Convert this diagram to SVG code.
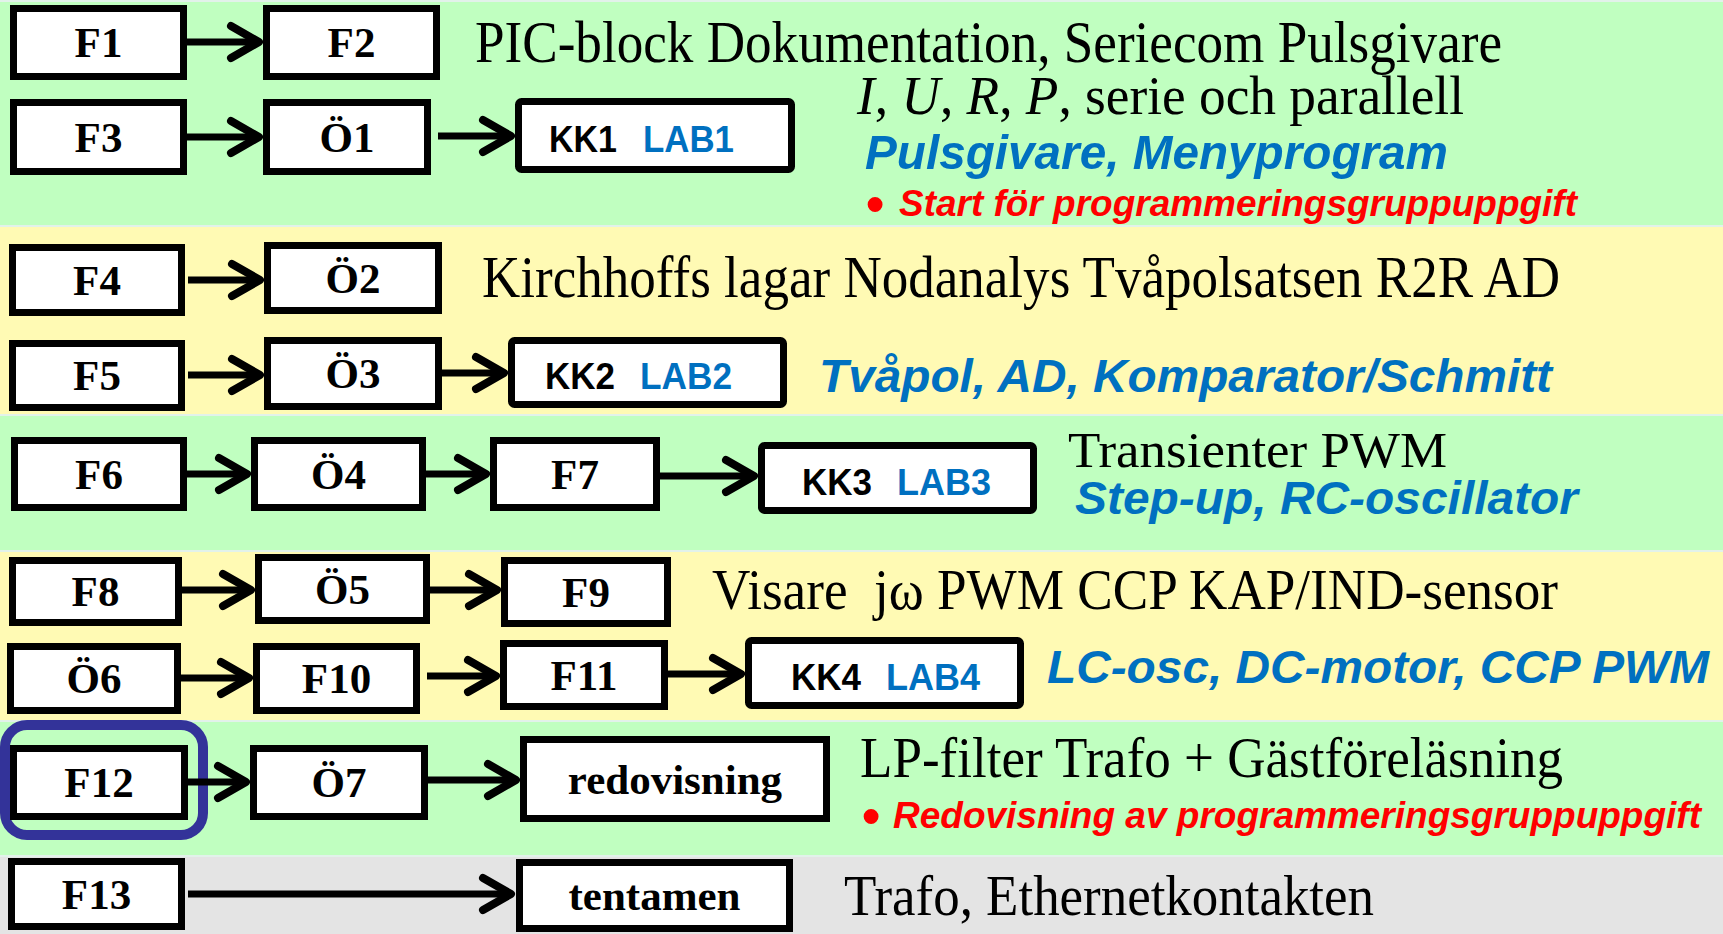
<svg xmlns="http://www.w3.org/2000/svg" width="1723" height="934" viewBox="0 0 1723 934">
<style>
.box{fill:#fff;stroke:#000;stroke-width:7}
.kk{fill:#fff;stroke:#000;stroke-width:7}
.lbl{font-family:"Liberation Serif","Times New Roman",serif;font-weight:bold;font-size:43px;fill:#000;text-anchor:middle}
.kkt{font-family:"Liberation Sans",Arial,sans-serif;font-weight:bold;font-size:36px;fill:#000}
.lab{fill:#0070C0}
.ser{font-family:"Liberation Serif","Times New Roman",serif;fill:#000}
.bi{font-family:"Liberation Sans",Arial,sans-serif;font-weight:bold;font-style:italic;fill:#0070C0}
.red{fill:#FF0000}
.bul{font-family:"Liberation Sans",Arial,sans-serif;font-weight:bold;fill:#FF0000;font-size:52px}
.con line{stroke:#000;stroke-width:7;marker-end:url(#chev)}
</style>
<defs>
<marker id="chev" markerUnits="userSpaceOnUse" markerWidth="44" markerHeight="44" viewBox="-36 -22 44 44" refX="0" refY="0" orient="auto" overflow="visible">
<path d="M-28,-16 L0,0 L-28,16" fill="none" stroke="#000" stroke-width="8" stroke-linecap="round" stroke-linejoin="round"/>
</marker>
</defs>
<g id="bands">
<rect x="0" y="0" width="1723" height="226" fill="#C0FFC0"/>
<rect x="0" y="226" width="1723" height="189" fill="#FFFAB4"/>
<rect x="0" y="415" width="1723" height="136" fill="#C0FFC0"/>
<rect x="0" y="551" width="1723" height="170" fill="#FFFAB4"/>
<rect x="0" y="721" width="1723" height="135" fill="#C0FFC0"/>
<rect x="0" y="856" width="1723" height="78" fill="#E4E4E4"/>
<g fill="#E2F2EA">
<rect x="0" y="0" width="1723" height="2"/>
<rect x="0" y="225" width="1723" height="2"/>
<rect x="0" y="414" width="1723" height="2"/>
<rect x="0" y="550" width="1723" height="2"/>
<rect x="0" y="720" width="1723" height="2"/>
<rect x="0" y="855" width="1723" height="2"/>
</g>
</g>
<rect id="highlight" x="5" y="725" width="198" height="110" rx="22" fill="none" stroke="#333399" stroke-width="10"/>
<g id="connectors" class="con">
<line x1="187" y1="42" x2="259" y2="42"/>
<line x1="187" y1="137" x2="259" y2="137"/>
<line x1="438" y1="136" x2="511" y2="136"/>
<line x1="188" y1="280" x2="260" y2="280"/>
<line x1="188" y1="375" x2="260" y2="375"/>
<line x1="442" y1="373" x2="504" y2="373"/>
<line x1="187" y1="474" x2="247" y2="474"/>
<line x1="426" y1="474" x2="486" y2="474"/>
<line x1="660" y1="476" x2="754" y2="476"/>
<line x1="182" y1="590" x2="251" y2="590"/>
<line x1="430" y1="590" x2="497" y2="590"/>
<line x1="181" y1="678" x2="249" y2="678"/>
<line x1="427" y1="676" x2="496" y2="676"/>
<line x1="668" y1="674" x2="741" y2="674"/>
<line x1="188" y1="782" x2="246" y2="782"/>
<line x1="428" y1="780" x2="516" y2="780"/>
<line x1="188" y1="894" x2="511" y2="894"/>
</g>
<g id="F1"><rect class="box" x="13.5" y="8.5" width="170" height="68"/><text class="lbl" x="98.5" y="57">F1</text></g>
<g id="F2"><rect class="box" x="266.5" y="8.5" width="170" height="68"/><text class="lbl" x="351.5" y="57">F2</text></g>
<g id="F3"><rect class="box" x="13.5" y="102.5" width="170" height="69"/><text class="lbl" x="98.5" y="151.5">F3</text></g>
<g id="O1"><rect class="box" x="266.5" y="102.5" width="161" height="69"/><text class="lbl" x="347" y="151.5">Ö1</text></g>
<g id="KK1"><rect class="kk" x="518.5" y="101.5" width="273" height="68" rx="3"/><text class="kkt" x="549" y="152" textLength="68" lengthAdjust="spacingAndGlyphs">KK1</text><text class="kkt lab" x="643" y="152" textLength="91" lengthAdjust="spacingAndGlyphs">LAB1</text></g>
<g id="F4"><rect class="box" x="12.5" y="247.5" width="169" height="65"/><text class="lbl" x="97" y="294.5">F4</text></g>
<g id="O2"><rect class="box" x="267.5" y="245.5" width="171" height="65"/><text class="lbl" x="353" y="292.5">Ö2</text></g>
<g id="F5"><rect class="box" x="12.5" y="343.5" width="169" height="64"/><text class="lbl" x="97" y="390">F5</text></g>
<g id="O3"><rect class="box" x="267.5" y="340.5" width="171" height="66"/><text class="lbl" x="353" y="388">Ö3</text></g>
<g id="KK2"><rect class="kk" x="511.5" y="340.5" width="272" height="64" rx="3"/><text class="kkt" x="545" y="389" textLength="70" lengthAdjust="spacingAndGlyphs">KK2</text><text class="kkt lab" x="640" y="389" textLength="92" lengthAdjust="spacingAndGlyphs">LAB2</text></g>
<g id="F6"><rect class="box" x="14.5" y="440.5" width="169" height="67"/><text class="lbl" x="99" y="488.5">F6</text></g>
<g id="O4"><rect class="box" x="254.5" y="440.5" width="168" height="67"/><text class="lbl" x="338.5" y="488.5">Ö4</text></g>
<g id="F7"><rect class="box" x="493.5" y="440.5" width="163" height="67"/><text class="lbl" x="575" y="488.5">F7</text></g>
<g id="KK3"><rect class="kk" x="761.5" y="445.5" width="272" height="65" rx="3"/><text class="kkt" x="802" y="494.5" textLength="70" lengthAdjust="spacingAndGlyphs">KK3</text><text class="kkt lab" x="897" y="494.5" textLength="94" lengthAdjust="spacingAndGlyphs">LAB3</text></g>
<g id="F8"><rect class="box" x="12.5" y="560.5" width="166" height="62"/><text class="lbl" x="95.5" y="606">F8</text></g>
<g id="O5"><rect class="box" x="258.5" y="557.5" width="168" height="63"/><text class="lbl" x="342.5" y="603.5">Ö5</text></g>
<g id="F9"><rect class="box" x="504.5" y="560.5" width="163" height="63"/><text class="lbl" x="586" y="606.5">F9</text></g>
<g id="O6"><rect class="box" x="10.5" y="646.5" width="167" height="64"/><text class="lbl" x="94" y="693">Ö6</text></g>
<g id="F10"><rect class="box" x="256.5" y="646.5" width="160" height="64"/><text class="lbl" x="336.5" y="693">F10</text></g>
<g id="F11"><rect class="box" x="503.5" y="643.5" width="161" height="63"/><text class="lbl" x="584" y="689.5">F11</text></g>
<g id="KK4"><rect class="kk" x="748.5" y="640.5" width="272" height="65" rx="3"/><text class="kkt" x="791" y="689.5" textLength="70" lengthAdjust="spacingAndGlyphs">KK4</text><text class="kkt lab" x="886" y="689.5" textLength="94" lengthAdjust="spacingAndGlyphs">LAB4</text></g>
<g id="F12"><rect class="box" x="13.5" y="748.5" width="171" height="68"/><text class="lbl" x="99" y="797">F12</text></g>
<g id="O7"><rect class="box" x="253.5" y="748.5" width="171" height="68"/><text class="lbl" x="339" y="797">Ö7</text></g>
<g id="redovisning"><rect class="box" x="523.5" y="739.5" width="303" height="79"/><text class="lbl" x="675" y="793.5">redovisning</text></g>
<g id="F13"><rect class="box" x="11.5" y="861.5" width="170" height="65"/><text class="lbl" x="96.5" y="908.5">F13</text></g>
<g id="tentamen"><rect class="box" x="519.5" y="862.5" width="270" height="66"/><text class="lbl" x="654.5" y="910">tentamen</text></g>
<g id="notes">
<text class="ser" x="475" y="62" font-size="59" textLength="1027" lengthAdjust="spacingAndGlyphs">PIC-block Dokumentation, Seriecom Pulsgivare</text>
<text class="ser" x="857" y="114" font-size="55" textLength="607" lengthAdjust="spacingAndGlyphs"><tspan font-style="italic">I</tspan>, <tspan font-style="italic">U</tspan>, <tspan font-style="italic">R</tspan>, <tspan font-style="italic">P</tspan>, serie och parallell</text>
<text class="bi" x="865" y="169" font-size="49" textLength="583" lengthAdjust="spacingAndGlyphs">Pulsgivare, Menyprogram</text>
<text class="bul" x="866" y="222">•</text>
<text class="bi red" x="899" y="216" font-size="36" textLength="678" lengthAdjust="spacingAndGlyphs">Start för programmeringsgruppuppgift</text>
<text class="ser" x="482" y="297" font-size="60" textLength="1078" lengthAdjust="spacingAndGlyphs">Kirchhoffs lagar Nodanalys Tvåpolsatsen R2R AD</text>
<text class="bi" x="819" y="392" font-size="47" textLength="733" lengthAdjust="spacingAndGlyphs">Tvåpol, AD, Komparator/Schmitt</text>
<text class="ser" x="1068" y="467" font-size="50" textLength="379" lengthAdjust="spacingAndGlyphs">Transienter PWM</text>
<text class="bi" x="1075" y="514" font-size="46" textLength="503" lengthAdjust="spacingAndGlyphs">Step-up, RC-oscillator</text>
<text class="ser" x="712" y="609" font-size="57" textLength="846" lengthAdjust="spacingAndGlyphs">Visare &#160;jω PWM CCP KAP/IND-sensor</text>
<text class="bi" x="1047" y="683" font-size="46" textLength="662" lengthAdjust="spacingAndGlyphs">LC-osc, DC-motor, CCP PWM</text>
<text class="ser" x="860" y="777" font-size="58" textLength="703" lengthAdjust="spacingAndGlyphs">LP-filter Trafo + Gästföreläsning</text>
<text class="bul" x="862" y="834">•</text>
<text class="bi red" x="893" y="828" font-size="36" textLength="808" lengthAdjust="spacingAndGlyphs">Redovisning av programmeringsgruppuppgift</text>
<text class="ser" x="844" y="915" font-size="57" textLength="530" lengthAdjust="spacingAndGlyphs">Trafo, Ethernetkontakten</text>
</g>
</svg>
